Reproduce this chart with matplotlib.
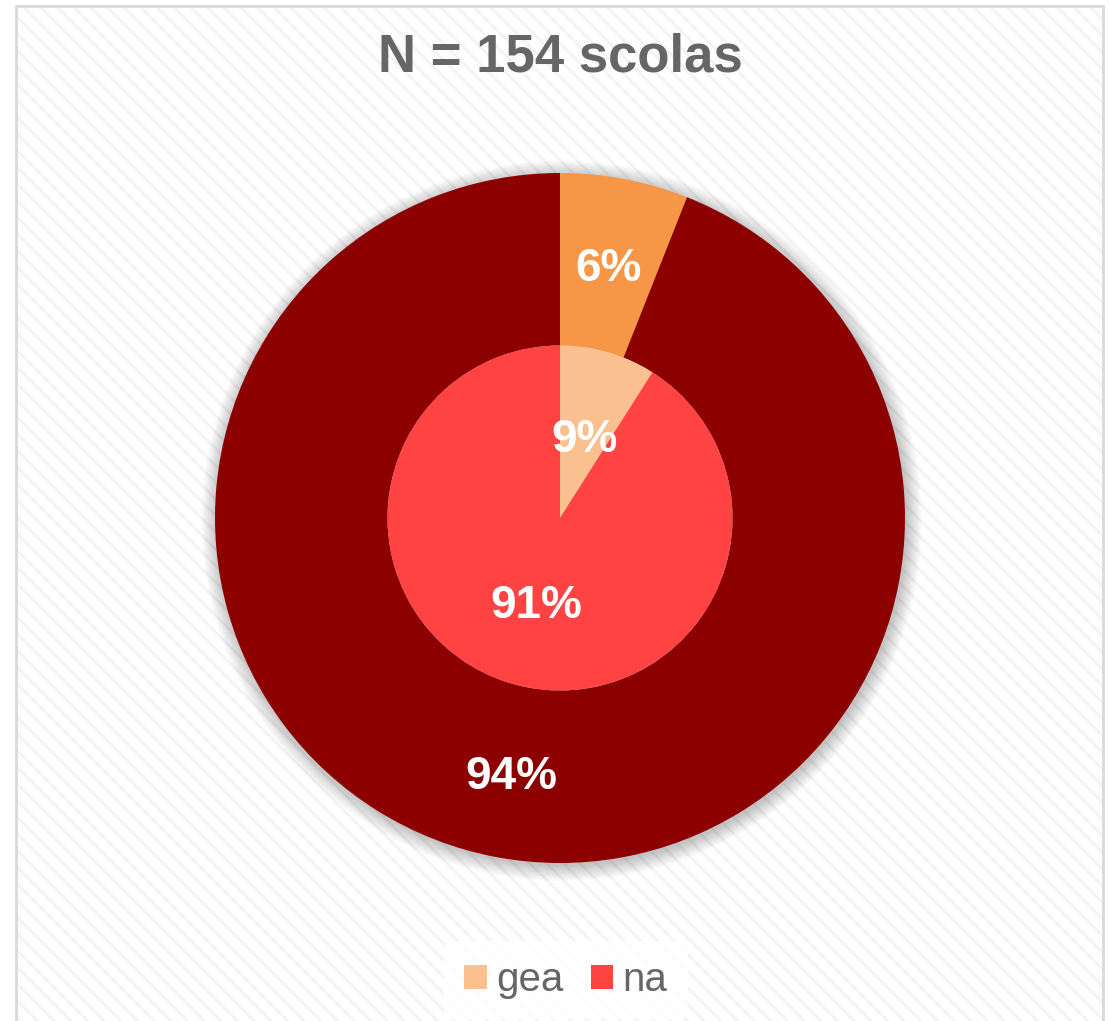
import matplotlib.pyplot as plt
from matplotlib.patches import Rectangle, Circle

plt.rcParams['font.family'] = ['Liberation Sans', 'DejaVu Sans']
plt.rcParams['hatch.linewidth'] = 2.0

# data
title_text = 'N = 154 scolas'
categories = ['gea', 'na']
outer_values = [6, 94]
inner_values = [9, 91]
outer_colors = ['#F79646', '#8C0000']
inner_colors = ['#FAC090', '#FF4343']
text_grey = '#666666'

fig = plt.figure(figsize=(11.09, 10.21), dpi=100)
W, H = 1109, 1021

# hatched background + frame
bg = Rectangle((16 / W, 0), (1103 - 16) / W, (H - 6) / H, transform=fig.transFigure,
               facecolor='white', edgecolor='#f3f3f3', hatch='\\\\', linewidth=0, zorder=-5)
fig.patches.append(bg)
frame = Rectangle((16 / W, -0.01), (1103 - 16) / W, (H - 6) / H + 0.01, transform=fig.transFigure,
                  facecolor='none', edgecolor='#d9d9d9', linewidth=2, zorder=-4)
fig.patches.append(frame)

cx, cy, r = 560, 518, 345
ax = fig.add_axes([(cx - r) / W, (H - cy - r) / H, 2 * r / W, 2 * r / H])
ax.set_xlim(-1, 1)
ax.set_ylim(-1, 1)
ax.set_aspect('equal')
ax.axis('off')

# soft shadow behind the ring
for i in range(12):
    ax.add_patch(Circle((0.005, -0.008), 1.0 + i * 0.004, facecolor='black',
                        edgecolor='none', alpha=0.018, zorder=0, clip_on=False))

label_font = dict(color='white', fontsize=33, fontweight='bold')

_, _, outer_pct = ax.pie(outer_values, colors=outer_colors, radius=1.0, startangle=90,
                         counterclock=False, wedgeprops=dict(width=0.5, edgecolor='none'),
                         autopct='%1.0f%%', pctdistance=0.75, textprops=label_font)
wedges, _, inner_pct = ax.pie(inner_values, colors=inner_colors, radius=0.5, startangle=90,
                              counterclock=False, wedgeprops=dict(edgecolor='none'),
                              autopct='%1.0f%%', pctdistance=0.5, textprops=label_font)
for t in list(outer_pct) + list(inner_pct):
    t.set_va('center_baseline')
ax.set_xlim(-1, 1)
ax.set_ylim(-1, 1)

fig.text(cx / W, 1 - 57 / H, title_text, ha='center', va='center',
         fontsize=38, fontweight='bold', color=text_grey)

leg = fig.legend(wedges, categories, loc='center', bbox_to_anchor=(566 / W, 1 - 980 / H),
                 ncol=2, frameon=True, fontsize=29, handlelength=0.55, handleheight=0.55,
                 handletextpad=0.25, columnspacing=0.66, borderpad=0.5, borderaxespad=0)
leg.get_frame().set_facecolor('white')
leg.get_frame().set_edgecolor('none')
leg.get_frame().set_alpha(0.9)
for t in leg.get_texts():
    t.set_color(text_grey)

fig.savefig('out.png', dpi=100)
